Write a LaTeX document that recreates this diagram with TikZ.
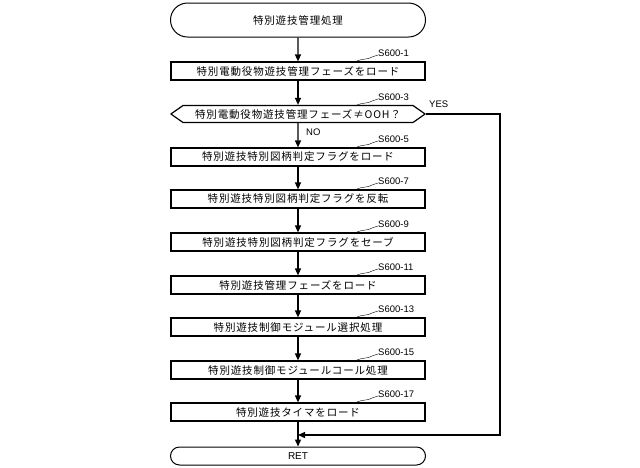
\documentclass[tikz,border=0pt]{standalone}
\usepackage{fontspec}
\setmainfont{Liberation Sans}
\newfontfamily\cjk{Noto Sans CJK JP}[LetterSpace=8]
\usetikzlibrary{arrows.meta,shapes.misc}
\begin{document}
\begin{tikzpicture}[x=1pt,y=-1pt,
  box/.style={draw,line width=1.2pt,minimum width=254pt,minimum height=18pt,inner sep=0pt,font=\cjk\fontsize{10.5}{11}\selectfont},
  term/.style={draw,line width=1pt,rounded rectangle,minimum width=255pt,inner sep=0pt,font=\cjk\fontsize{10.5}{11}\selectfont},
  hexa/.style={draw,line width=1.2pt,chamfered rectangle,chamfered rectangle xsep=12pt,chamfered rectangle angle=55,minimum width=254pt,minimum height=17pt,inner sep=0pt,font=\cjk\fontsize{10.5}{11}\selectfont},
  lbl/.style={font=\fontsize{9.5}{10}\selectfont,anchor=west,inner sep=0pt},
  arr/.style={line width=1.3pt,-{Triangle[length=7pt,width=6pt]}}]
\useasboundingbox (0,0) rectangle (640,467);
\node[term,minimum height=34pt] (s) at (298,20) {特別遊技管理処理};
\node[box] (b1) at (298,71) {特別電動役物遊技管理フェーズをロード};
\node[hexa] (d3) at (298,114) {特別電動役物遊技管理フェーズ≠OOH？};
\node[box] (b5) at (298,157) {特別遊技特別図柄判定フラグをロード};
\node[box] (b7) at (298,199) {特別遊技特別図柄判定フラグを反転};
\node[box] (b9) at (298,242) {特別遊技特別図柄判定フラグをセーブ};
\node[box] (b11) at (298,285) {特別遊技管理フェーズをロード};
\node[box] (b13) at (298,327) {特別遊技制御モジュール選択処理};
\node[box] (b15) at (298,370) {特別遊技制御モジュールコール処理};
\node[box] (b17) at (298,412) {特別遊技タイマをロード};
\node[term,minimum height=18pt,font=\fontsize{10}{11}\selectfont] (r) at (298,456) {RET};
\draw[arr] (s) -- (b1);
\draw[arr] (b1) -- (d3);
\draw[arr] (d3) -- (b5);
\draw[arr] (b5) -- (b7);
\draw[arr] (b7) -- (b9);
\draw[arr] (b9) -- (b11);
\draw[arr] (b11) -- (b13);
\draw[arr] (b13) -- (b15);
\draw[arr] (b15) -- (b17);
\draw[arr] (b17) -- (r);
\coordinate (m) at (298,435);
\draw[arr] (d3.east) -- (500,114) -- (500,435) -- (m);
\node[lbl] (yes) at (429,104) {YES};
\node[lbl] (no) at (306,132) {NO};
\foreach \n/\y/\t in {b1/62/1,d3/106/3,b5/148/5,b7/190/7,b9/233/9,b11/276/11,b13/318/13,b15/361/15,b17/403/17}{
  \draw[line width=0.4pt] (355,\y) .. controls (362,\y-4) and (368,\y-2) .. (372,\y-5) -- (378,\y-7);
  \node[lbl] at (378,\y-9) {S600-\t};
}
\end{tikzpicture}
\end{document}
